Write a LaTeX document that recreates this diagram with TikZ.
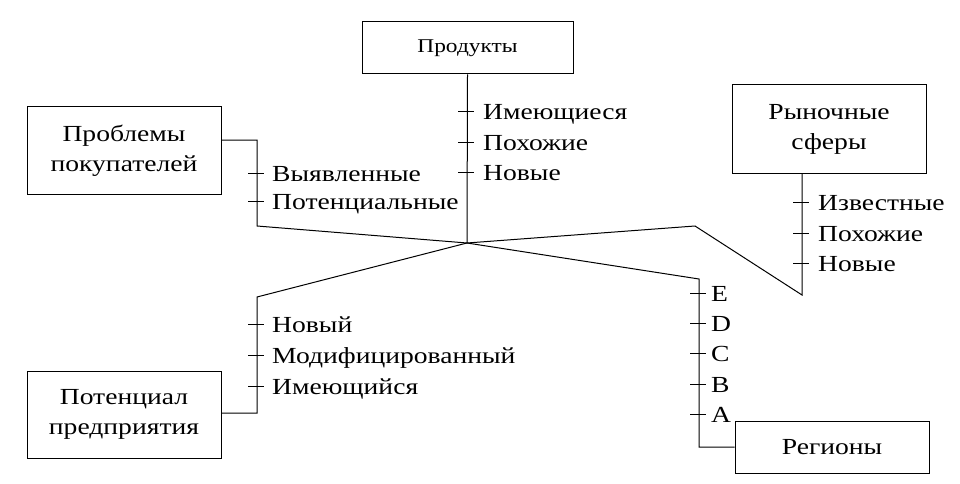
\documentclass[tikz,border=0pt]{standalone}
\usepackage{fontspec}
\setmainfont[FakeStretch=1.2]{Liberation Serif}
\usetikzlibrary{positioning, calc}

\begin{document}
\begin{tikzpicture}[
    x=1pt, y=-1pt,
    box/.style={draw, line width=1pt, align=center, inner sep=0pt,
                font=\fontsize{23}{30}\selectfont},
    lbl/.style={anchor=base west, inner sep=0pt,
                font=\fontsize{23}{30}\selectfont},
    conn/.style={line width=1pt},
]
\useasboundingbox (0,0) rectangle (960,484);

% --- Boxes ---
\node[box, minimum width=211pt, minimum height=52pt,
      font=\fontsize{19.5}{24}\selectfont] (prod) at (467.5, 48) {Продукты};
\node[box, minimum width=194pt, minimum height=87pt] (prob) at (124, 150.5)
    {Проблемы\\покупателей};
\node[box, minimum width=194pt, minimum height=88pt] (ryn) at (829, 129)
    {Рыночные\\сферы};
\node[box, minimum width=194pt, minimum height=52pt] (reg) at (832, 447)
    {Регионы};
\node[box, minimum width=194pt, minimum height=87pt] (pot) at (124, 414.5)
    {Потенциал\\предприятия};

% --- Bends ---
\coordinate (ctr) at (467, 243);
\coordinate (prob_a) at (257, 140);
\coordinate (prob_b) at (257, 226);
\coordinate (ryn_a) at (802, 295);
\coordinate (ryn_b) at (695, 226);
\coordinate (reg_a) at (699, 447);
\coordinate (reg_b) at (699, 279);
\coordinate (pot_a) at (257, 413);
\coordinate (pot_b) at (257, 297);

% --- Connectors ---
\draw[conn] (prod.south) -- (ctr);
\draw[conn] (prob.east |- prob_a) -- (prob_a) -- (prob_b) -- (ctr);
\draw[conn] (ryn.south -| ryn_a) -- (ryn_a) -- (ryn_b) -- (ctr);
\draw[conn] (reg.west) -- (reg_a) -- (reg_b) -- (ctr);
\draw[conn] (pot.east |- pot_a) -- (pot_a) -- (pot_b) -- (ctr);

% --- Ticks and labels ---
\foreach \y/\t [count=\i] in {112/Имеющиеся, 142/Похожие, 172/Новые} {
    \draw[conn] (458, \y) -- (474, \y);
    \node[lbl] (prod_l\i) at (483, \y+8) {\t};
}
\foreach \y/\t [count=\i] in {173/Выявленные, 201/Потенциальные} {
    \draw[conn] (248, \y) -- (264, \y);
    \node[lbl] (prob_l\i) at (272, \y+8) {\t};
}
\foreach \y/\t [count=\i] in {202/Известные, 233/Похожие, 263/Новые} {
    \draw[conn] (793, \y) -- (809, \y);
    \node[lbl] (ryn_l\i) at (818, \y+8) {\t};
}
\foreach \y/\t [count=\i] in {293/E, 323/D, 353/C, 384/B, 414/A} {
    \draw[conn] (690, \y) -- (706, \y);
    \node[lbl] (reg_l\i) at (711, \y+8) {\t};
}
\foreach \y/\t [count=\i] in {324/Новый, 355/Модифицированный, 386/Имеющийся} {
    \draw[conn] (248, \y) -- (264, \y);
    \node[lbl] (pot_l\i) at (272, \y+8) {\t};
}
\end{tikzpicture}
\end{document}
